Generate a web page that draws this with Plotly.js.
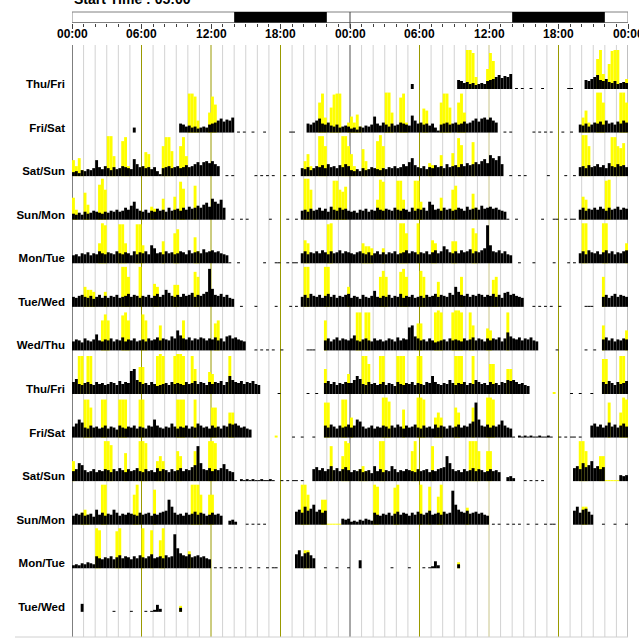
<!DOCTYPE html>
<html>
<head>
<meta charset="utf-8">
<script src="https://cdn.plot.ly/plotly-3.0.1.min.js"></script>
<style>
  html, body { margin: 0; padding: 0; background: #ffffff; }
  #chart { width: 639px; height: 638px; }
</style>
</head>
<body>
<div id="chart"></div>
<script>
// ---- Actogram data: 15-minute activity bins, 96 per day ----
const BIN_HOURS = 0.25;
const startTimeText = 'Start Time : 05:00';
const darkStart = 14;   // dark phase begins (hours)
const darkEnd = 22;     // dark phase ends (hours)
const hourTickText = ['00:00', '06:00', '12:00', '18:00', '00:00', '06:00', '12:00', '18:00', '00:00'];
const rowLabels = ['Thu/Fri', 'Fri/Sat', 'Sat/Sun', 'Sun/Mon', 'Mon/Tue', 'Tue/Wed', 'Wed/Thu',
                   'Thu/Fri', 'Fri/Sat', 'Sat/Sun', 'Sun/Mon', 'Mon/Tue', 'Tue/Wed'];

// black = activity counts, yellow = second channel
const blk01 = [
  0,0,0,0,0,0,0,0,0,0,0,0,  0,0,0,0,0,0,0,0,0,5,0,0,
  0,0,0,0,0,0,0,0,0,0,0,0,  0,9,8,6,7,5,6,4,5,6,5,8,
  9,10,12,14,11,13,12,15,0,1,0,1,  0,0,1,0,0,0,1,0,0,0,0,0,
  0,0,0,1,1,0,0,0,0,9,8,10,  12,14,9,8,10,7,6,8,5,6,7,6];
const ylw01 = [
  0,0,0,0,0,0,0,0,0,0,0,0,  0,0,0,0,0,0,0,0,0,0,0,0,
  0,0,0,0,0,0,0,0,0,0,0,0,  0,0,0,0,39,39,36,12,0,0,0,20,
  36,28,0,0,0,0,0,0,0,0,0,0,  0,0,0,0,0,0,0,0,0,0,0,0,
  0,0,0,0,0,0,0,0,0,0,0,0,  0,30,39,15,0,25,38,39,39,0,0,10];

const blk02 = [
  4,5,3,6,5,7,6,8,16,9,7,10,  8,6,9,7,8,10,9,8,7,17,12,9,
  10,8,9,7,9,5,2,8,9,10,8,9,  10,8,9,11,9,10,12,14,11,14,15,13,
  15,12,10,0,0,1,0,1,0,0,0,0,  0,0,0,1,0,1,0,1,0,1,0,0,
  0,1,0,0,1,0,0,8,7,9,6,8,  10,9,11,8,12,9,10,8,11,9,12,10];
const ylw02 = [
  16,10,18,6,0,0,0,0,0,0,0,0,  40,40,20,0,0,35,39,10,0,0,0,0,
  0,24,22,0,0,0,0,30,39,39,25,0,  0,30,39,20,0,0,0,0,0,0,0,0,
  0,0,0,0,0,0,0,0,0,0,0,0,  0,0,0,0,0,0,0,0,0,0,0,0,
  0,0,0,0,0,0,0,0,15,22,10,0,  0,40,40,30,0,0,0,0,0,40,40,30];

const blk03 = [
  6,5,7,5,8,6,7,9,8,7,6,8,  7,9,8,10,8,9,12,10,14,18,11,9,
  8,10,7,9,8,11,9,10,8,12,9,10,  11,9,12,10,13,11,12,14,12,15,17,13,
  21,18,16,20,12,0,0,1,0,0,1,0,  1,0,0,0,0,0,0,0,1,0,0,0,
  0,0,1,0,0,1,0,9,10,8,11,9,  10,12,9,11,8,13,10,9,12,10,11,9];
const ylw03 = [
  22,10,0,0,27,15,0,0,0,35,41,30,  0,0,0,0,0,0,0,0,0,0,0,0,
  0,0,0,13,11,0,0,21,0,0,0,23,  0,38,31,0,0,0,34,0,0,0,0,0,
  0,0,0,0,0,0,0,0,0,0,0,0,  0,0,0,0,0,0,0,0,0,0,0,0,
  0,0,0,0,0,0,0,0,41,41,30,0,  0,0,0,0,0,0,39,39,30,28,33,0];

const blk04 = [
  8,9,7,10,9,11,8,10,9,12,10,9,  11,10,9,12,10,9,11,10,8,12,9,11,
  10,12,9,18,15,10,11,9,12,10,11,9,  10,12,11,9,13,10,11,12,10,14,11,12,
  13,11,12,10,9,8,1,0,0,1,0,0,  0,0,0,0,0,0,1,0,0,0,1,1,
  0,0,1,0,1,1,0,10,12,9,11,10,  12,10,13,11,9,12,10,11,13,10,12,11];
const ylw04 = [
  0,0,0,0,0,0,0,0,0,20,40,38,  0,0,0,0,39,39,20,0,0,0,39,39,
  18,0,0,0,0,0,0,22,0,0,0,30,  34,0,0,0,0,0,26,12,0,0,0,0,
  0,0,0,0,0,0,0,0,0,0,0,0,  0,0,0,0,0,0,0,0,0,0,0,0,
  0,0,0,0,0,0,0,0,23,20,0,0,  0,0,0,0,39,40,0,0,0,0,0,0];

const blk05 = [
  10,9,11,12,10,9,11,8,10,12,9,11,  9,11,10,12,9,10,11,13,10,12,11,9,
  11,10,12,9,11,13,10,12,17,14,11,10,  12,10,13,11,12,14,10,12,11,13,15,38,
  18,12,11,13,10,12,9,8,0,0,1,0,  0,0,0,1,0,0,0,0,0,0,1,0,
  0,0,0,1,0,1,0,10,12,9,13,11,  10,12,9,11,13,10,12,9,11,10,12,13];
const ylw05 = [
  0,0,0,0,20,17,17,15,0,0,0,15,  0,0,0,0,0,40,40,30,0,0,0,40,
  0,0,0,0,23,20,0,0,0,0,0,22,  22,0,0,0,0,0,35,30,0,0,0,0,
  0,0,0,0,0,0,0,0,0,0,0,0,  0,0,0,0,0,0,0,0,0,0,0,0,
  0,0,0,0,0,0,0,0,40,40,0,0,  0,0,0,40,40,0,0,0,0,0,0,20];

const blk06 = [
  9,11,10,8,12,10,9,11,16,10,9,11,  10,12,9,11,10,13,9,11,10,12,9,10,
  11,9,12,10,11,13,10,12,11,10,14,12,  20,15,12,11,13,10,12,11,13,12,10,12,
  11,13,10,12,9,14,15,12,13,11,10,9,  0,0,0,1,0,1,0,1,0,1,0,0,
  1,0,0,0,0,0,0,0,0,1,1,1,  0,0,0,10,12,9,11,13,10,12,11,10];
const ylw06 = [
  0,0,0,0,0,0,0,0,0,0,30,36,  30,0,0,0,0,35,38,30,0,0,0,0,
  36,30,0,0,0,0,25,0,0,0,0,0,  0,0,30,0,0,0,0,0,0,0,0,0,
  0,27,30,0,0,0,0,0,0,0,0,0,  0,0,0,0,0,0,0,0,0,0,0,0,
  0,0,0,0,0,0,0,0,0,0,0,0,  0,0,0,30,0,0,0,0,0,0,0,0];

const blk07 = [
  12,15,10,9,11,12,10,9,12,10,11,9,  10,12,11,9,13,10,12,11,23,25,14,12,
  10,11,9,12,10,8,9,10,11,9,12,10,  11,10,9,12,10,11,13,10,12,11,9,12,
  10,12,11,13,9,12,18,14,12,11,13,10,  12,11,13,10,9,0,0,0,0,0,0,1,
  0,0,0,0,0,0,0,0,0,1,0,0,  1,0,0,11,13,10,12,9,11,10,12,11];
const ylw07 = [
  0,0,38,38,0,38,38,0,0,0,0,0,  0,0,0,0,0,0,0,0,0,0,0,27,
  27,0,0,0,0,38,40,38,0,0,0,38,  40,40,38,0,0,38,25,0,0,0,0,22,
  20,0,0,0,0,0,38,0,0,0,0,0,  0,0,0,0,0,0,0,0,0,0,0,0,
  0,0,0,0,0,0,0,0,0,0,0,0,  0,0,0,25,0,0,0,0,0,0,0,20];

const blk08 = [
  11,14,18,15,10,9,12,10,11,9,10,12,  9,11,10,8,12,10,9,11,10,12,9,11,
  10,9,12,11,18,12,10,9,11,10,14,11,  9,11,10,12,9,11,10,14,12,10,11,9,
  12,10,11,9,12,11,14,13,14,12,10,11,  9,8,0,0,0,0,0,0,0,0,0,0,
  0,0,0,0,1,0,0,1,0,0,0,1,  0,0,0,12,10,13,11,9,12,10,11,13];
const ylw08 = [
  0,0,0,0,38,38,30,0,0,0,38,38,  0,0,0,0,38,38,38,0,0,0,0,38,
  38,0,0,0,0,0,0,0,0,0,0,0,  38,38,38,0,0,0,38,0,0,0,0,0,
  30,30,0,0,0,0,25,25,0,0,0,0,  0,0,0,0,0,0,0,0,0,0,2,0,
  0,0,0,0,0,0,0,0,0,0,0,0,  0,0,0,35,35,0,0,0,0,38,38,0];

const blk09 = [
  10,12,18,16,11,9,10,12,9,11,10,12,  11,9,12,10,13,11,9,12,10,11,13,10,
  9,12,10,11,9,13,10,12,11,9,12,10,  11,13,10,12,11,14,16,35,18,12,11,13,
  10,12,11,13,17,12,10,9,1,0,2,1,  2,1,2,1,1,2,1,1,2,1,0,0,
  1,0,1,0,1,1,0,1,0,0,0,12,  14,11,13,10,12,15,11,13,10,12,14,11];
const ylw09 = [
  20,0,0,0,0,0,0,0,0,0,0,40,  40,36,0,0,0,0,28,0,0,0,0,40,
  40,38,0,0,0,20,25,20,0,0,0,0,  30,25,0,0,0,0,30,0,0,0,0,40,
  40,38,0,0,0,0,0,0,0,0,0,0,  0,0,0,0,0,0,0,0,0,0,0,0,
  0,0,0,0,0,0,0,0,0,0,0,0,  0,0,0,0,0,35,0,0,0,25,40,38];

const blk10 = [
  9,11,10,12,9,10,11,8,15,10,12,9,  11,10,15,12,9,11,10,12,11,10,9,12,
  10,11,12,9,11,10,12,13,14,25,18,12,  10,11,9,12,10,11,13,10,12,11,9,10,
  12,10,11,9,0,0,4,5,3,0,0,0,  1,0,1,0,1,0,1,0,0,0,0,0,
  0,0,0,0,0,13,15,12,18,14,16,20,  13,15,12,14,0,0,0,0,0,6,5,6];
const ylw10 = [
  0,0,0,12,15,10,0,0,0,0,40,40,  0,0,0,0,0,0,0,0,0,30,40,0,
  0,0,0,0,35,0,0,0,0,0,0,0,  0,0,0,0,0,40,40,40,30,0,0,30,
  30,0,0,0,0,0,0,0,0,0,0,0,  0,0,0,0,0,0,0,0,0,0,0,0,
  0,0,0,0,0,0,0,40,40,30,0,0,  0,0,25,25,1,1,1,1,1,0,0,0];

const blk11 = [
  3,4,3,5,4,6,5,4,12,10,9,11,  10,12,9,11,13,10,12,11,9,12,10,13,
  11,10,12,14,10,11,12,10,13,11,12,34,  20,15,13,12,14,11,12,13,11,12,10,9,
  0,1,0,1,0,0,1,0,1,0,1,0,  0,1,0,0,1,0,0,1,0,1,1,0,
  0,0,0,0,0,14,18,12,15,16,13,10,  0,0,0,1,0,0,0,1,0,0,0,1];
const ylw11 = [
  0,0,0,0,0,0,0,0,40,38,0,0,  0,0,0,37,40,0,0,0,0,0,0,0,
  40,0,0,38,0,0,28,40,0,0,0,0,  0,0,0,0,17,0,0,0,0,0,0,0,
  0,0,0,0,0,0,0,0,0,0,0,0,  0,0,0,0,0,0,0,0,0,0,0,0,
  0,0,0,0,0,0,0,0,18,18,0,0,  0,0,0,0,0,0,0,0,0,0,0,0];

const blk12 = [
  0,0,0,8,0,0,0,0,0,0,0,0,  0,0,1,0,0,0,0,0,1,0,0,0,
  0,1,0,1,2,7,3,0,0,0,0,0,  0,4,0,0,0,0,0,0,0,0,0,0,
  0,0,0,0,0,0,0,0,0,0,0,0,  0,0,0,0,0,0,0,0,0,0,0,0,
  0,0,0,0,0,0,0,0,0,0,0,0,  0,0,0,0,0,0,0,0,0,0,0,0];
const ylw12 = [
  0,0,0,0,0,0,0,0,0,0,0,0,  0,0,0,0,0,0,0,0,0,0,0,0,
  0,0,0,0,0,0,0,0,0,0,0,0,  0,6,0,0,0,0,0,0,0,0,0,0,
  0,0,0,0,0,0,0,0,0,0,0,0,  0,0,0,0,0,0,0,0,0,0,0,0,
  0,0,0,0,0,0,0,0,0,0,0,0,  0,0,0,0,0,0,0,0,0,0,0,0];

// Recording is empty on the first Thursday and the last Wednesday
const noData = blk12.map(() => 0);
const blackDays  = [noData, blk01, blk02, blk03, blk04, blk05, blk06, blk07, blk08, blk09, blk10, blk11, blk12, noData];
const yellowDays = [noData, ylw01, ylw02, ylw03, ylw04, ylw05, ylw06, ylw07, ylw08, ylw09, ylw10, ylw11, ylw12, noData];

// ---- Geometry ----
const DAY_HOURS = 24;
const ROW = 43.57;          // vertical spacing between rows, in y units (~px)
const Y_RANGE = [-548, 44];
const W = 639, H = 638;
const M = {l: 72, r: 11, t: 12, b: 1};
const plotH = H - M.t - M.b;
const plotW = W - M.l - M.r;
const pageY = py => (H - M.b - py) / plotH;     // page pixel row -> paper y
const pageX = px => (px - M.l) / plotW;         // page pixel column -> paper x
const DOMAIN_TOP = pageY(45);
const LD_BOTTOM = pageY(22.5);

// Double-plotted rows: row r shows day r on the left and day r+1 on the right
function rowBars(days) {
  const x = [], y = [], base = [];
  for (let r = 0; r < rowLabels.length; r++) {
    [days[r], days[r + 1]].forEach((day, half) => {
      day.forEach((v, i) => {
        if (v > 0) {
          x.push(half * DAY_HOURS + (i + 0.5) * BIN_HOURS);
          y.push(v);
          base.push(-r * ROW);
        }
      });
    });
  }
  return {x, y, base};
}

const yb = rowBars(yellowDays);
const bb = rowBars(blackDays);

const traces = [
  {type: 'bar', x: yb.x, y: yb.y, base: yb.base, width: BIN_HOURS,
   marker: {color: '#ffff00', line: {width: 0}}, hoverinfo: 'skip'},
  {type: 'bar', x: bb.x, y: bb.y, base: bb.base, width: BIN_HOURS,
   marker: {color: '#000000', line: {width: 0}}, hoverinfo: 'skip'},
  // carries the hour axis under the light/dark bar
  {type: 'scatter', x: [0, 2 * DAY_HOURS], y: [null, null], xaxis: 'x2', yaxis: 'y',
   mode: 'none', hoverinfo: 'skip', showlegend: false}
];

// ---- Decorations ----
const shapes = [];
for (let h = 0; h <= 2 * DAY_HOURS; h++) {
  let color = '#d2d2d2';
  if (h === 0) color = '#000000';
  else if (h === DAY_HOURS) color = '#505050';
  else if (h === 2 * DAY_HOURS) color = '#808080';
  else if (h === 36) color = '#c8c48a';
  else if (h % 6 === 0) color = '#9a9a00';
  shapes.push({type: 'line', layer: 'below', xref: 'x', yref: 'paper',
               x0: h, x1: h, y0: 0, y1: DOMAIN_TOP, line: {color: color, width: 1}});
}
// light / dark bar
shapes.push({type: 'rect', xref: 'x', yref: 'paper', x0: 0, x1: 2 * DAY_HOURS, y0: LD_BOTTOM, y1: 1,
             fillcolor: '#ffffff', line: {color: '#808080', width: 1}});
[0, DAY_HOURS].forEach(off => {
  shapes.push({type: 'rect', xref: 'x', yref: 'paper', x0: darkStart + off, x1: darkEnd + off,
               y0: LD_BOTTOM, y1: 1, fillcolor: '#000000', line: {width: 0}});
});
shapes.push({type: 'line', xref: 'x', yref: 'paper', x0: DAY_HOURS, x1: DAY_HOURS,
             y0: pageY(28), y1: 1, line: {color: '#404040', width: 1}});
// bottom border
shapes.push({type: 'line', xref: 'paper', yref: 'paper', x0: pageX(15), x1: 1, y0: 0, y1: 0,
             line: {color: '#d0d0d0', width: 1}});
// left margin mask for the row labels
shapes.push({type: 'rect', layer: 'above', xref: 'paper', yref: 'paper', x0: pageX(-5), x1: pageX(15),
             y0: pageY(H), y1: DOMAIN_TOP, fillcolor: '#ffffff', line: {width: 0}});

const FONT = 'Liberation Sans, Arial, sans-serif';

// hour labels under the light/dark bar
const hourLabels = hourTickText.map((t, i) => ({
  text: t, xref: 'x', yref: 'paper', x: i * 6, y: pageY(34), xanchor: 'center', yanchor: 'middle',
  showarrow: false, font: {family: FONT, size: 12, color: '#000000', weight: 'bold'}
}));

const layout = {
  width: W, height: H,
  margin: M,
  paper_bgcolor: '#ffffff',
  plot_bgcolor: 'rgba(0,0,0,0)',
  showlegend: false,
  barmode: 'overlay',
  xaxis: {range: [0, 2 * DAY_HOURS], showticklabels: false, ticks: '', showgrid: false,
          zeroline: false, showline: false, fixedrange: true},
  xaxis2: {overlaying: 'x', anchor: 'free', position: LD_BOTTOM, side: 'bottom',
           range: [0, 2 * DAY_HOURS], tickmode: 'array',
           tickvals: hourTickText.map((_, i) => i * 6), showticklabels: false,
           ticks: 'outside', ticklen: 5, tickwidth: 1, tickcolor: '#404040',
           minor: {tickmode: 'linear', tick0: 0, dtick: 1, ticks: 'outside', ticklen: 3, tickcolor: '#404040'},
           showline: false, showgrid: false, zeroline: false, fixedrange: true},
  yaxis: {domain: [0, DOMAIN_TOP], range: Y_RANGE, tickmode: 'array',
          tickvals: rowLabels.map((_, r) => -r * ROW + 5), ticktext: rowLabels,
          ticks: '', showgrid: false, zeroline: false, showline: false, fixedrange: true,
          ticklabelstandoff: 6,
          tickfont: {family: FONT, size: 11.5, color: '#000000', weight: 'bold'}},
  shapes: shapes,
  annotations: [{text: startTimeText, xref: 'paper', yref: 'paper', x: 0, y: pageY(-0.5),
                 xanchor: 'left', yanchor: 'middle', showarrow: false,
                 font: {family: FONT, size: 14, color: '#000000', weight: 'bold'}}].concat(hourLabels)
};

Plotly.newPlot('chart', traces, layout, {staticPlot: true, displayModeBar: false});
</script>
</body>
</html>
